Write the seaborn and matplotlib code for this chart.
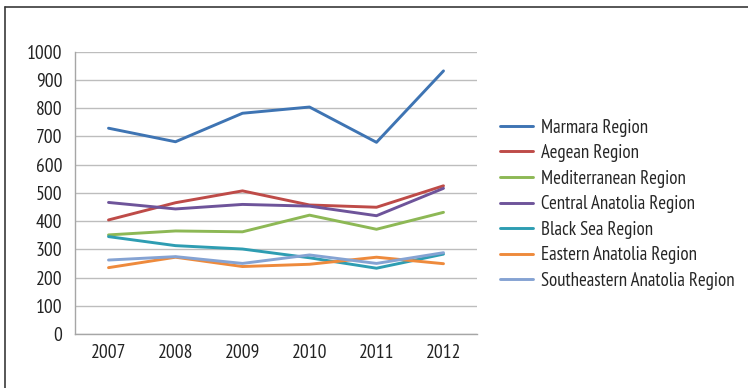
import matplotlib
matplotlib.use("Agg")
import matplotlib.pyplot as plt
from matplotlib import font_manager
import pandas as pd
import seaborn as sns

years = ["2007", "2008", "2009", "2010", "2011", "2012"]
regions = [
    "Marmara Region",
    "Aegean Region",
    "Mediterranean Region",
    "Central Anatolia Region",
    "Black Sea Region",
    "Eastern Anatolia Region",
    "Southeastern Anatolia Region",
]
marmara = [729, 681, 782, 804, 679, 932]
aegean = [404, 465, 507, 457, 449, 525]
mediterranean = [351, 365, 362, 421, 371, 431]
central_anatolia = [466, 443, 459, 453, 419, 516]
black_sea = [345, 313, 301, 270, 233, 283]
eastern_anatolia = [235, 272, 239, 247, 272, 249]
southeastern_anatolia = [262, 274, 250, 280, 250, 288]
colors = ["#3E74B3", "#BE4B48", "#8DB855", "#6E549A", "#2E9DB2", "#EE8A3C", "#85A3D3"]

series = [marmara, aegean, mediterranean, central_anatolia,
          black_sea, eastern_anatolia, southeastern_anatolia]
rows = []
for name, vals in zip(regions, series):
    for i, v in enumerate(vals):
        rows.append({"pos": i, "Year": years[i], "Region": name, "Value": v})
df = pd.DataFrame(rows)

sns.set_style("white")
installed = {f.name for f in font_manager.fontManager.ttflist}
family = "DejaVu Sans"
for cand in ["PT Sans Narrow", "Fira Sans Condensed", "Roboto Condensed",
             "Open Sans Condensed", "Asap Condensed", "Archivo Narrow"]:
    if cand in installed:
        family = cand
        break
plt.rcParams["font.family"] = [family, "DejaVu Sans"]

fig = plt.figure(figsize=(7.48, 3.88), dpi=100)
ax = fig.add_axes([75 / 748, 54 / 388, 402 / 748, 282.3 / 388])

sns.lineplot(data=df, x="pos", y="Value", hue="Region", hue_order=regions,
             palette=colors, linewidth=2.1, ax=ax, legend=True)

ax.set_xlim(-0.5, 5.5)
ax.set_ylim(0, 1000)
ax.set_yticks(range(0, 1001, 100))
ax.set_yticklabels([str(v) for v in range(0, 1001, 100)], fontsize=14, color="#222222")
ax.set_xticks(range(6))
ax.set_xticklabels(years, fontsize=14, color="#222222")
ax.set_xticks([i - 0.5 for i in range(7)], minor=True)
ax.tick_params(axis="x", which="major", length=0, pad=7)
ax.tick_params(axis="x", which="minor", length=5, color="#A6A6A6", width=1)
ax.tick_params(axis="y", length=5, color="#A6A6A6", width=1, pad=4)
ax.set_xlabel("")
ax.set_ylabel("")
ax.yaxis.grid(True, color="#BDBDBD", linewidth=1)
ax.set_axisbelow(True)
for side in ("top", "right"):
    ax.spines[side].set_visible(False)
for side in ("left", "bottom"):
    ax.spines[side].set_color("#A6A6A6")
    ax.spines[side].set_linewidth(1)

handles, labels = ax.get_legend_handles_labels()
ax.legend(handles, labels, loc="upper left", bbox_to_anchor=(492 / 748, 1 - 111 / 388),
          bbox_transform=fig.transFigure, frameon=False, fontsize=13.6,
          handlelength=1.75, handletextpad=0.45, labelspacing=0.40, borderaxespad=0)

# outer frame (left and top edges)
fig.add_artist(plt.Line2D([5 / 748, 5 / 748], [0, 1 - 7 / 388], color="#3A3A3A", lw=1.2,
                          transform=fig.transFigure))
fig.add_artist(plt.Line2D([5 / 748, 1], [1 - 7 / 388, 1 - 7 / 388], color="#3A3A3A", lw=1.2,
                          transform=fig.transFigure))

fig.savefig("out.png", dpi=100)
